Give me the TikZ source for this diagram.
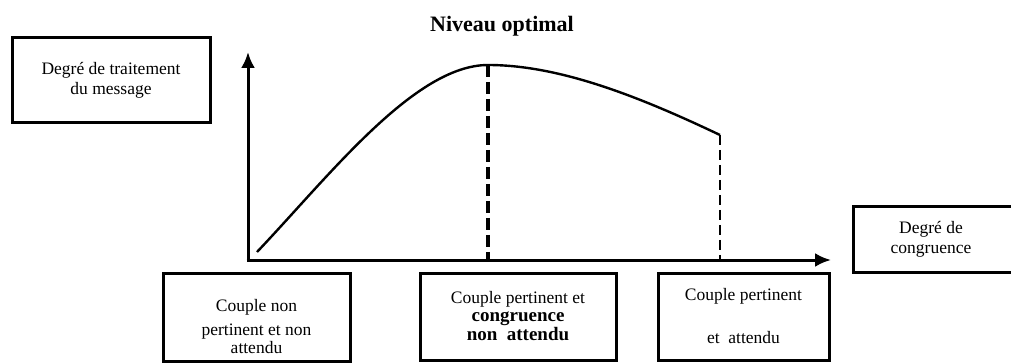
\documentclass[tikz,border=0pt]{standalone}
\usepackage{fontspec}
\setmainfont{Liberation Serif}
\usetikzlibrary{arrows.meta}
\begin{document}
\begin{tikzpicture}[x=1pt,y=-1pt,
  box/.style={draw,line width=3pt,align=center,inner sep=0pt,font=\fontsize{17.5}{20}\selectfont},
  txt/.style={align=center,inner sep=0pt,font=\fontsize{17.5}{20}\selectfont},
  axis/.style={line width=3pt,-{Latex[length=16pt,width=14pt]}},
  curve/.style={line width=2.4pt},
  dashA/.style={line width=3.2pt,dash pattern=on 12pt off 5pt},
  dashB/.style={line width=2.2pt,dash pattern=on 10pt off 5pt}]
\useasboundingbox (0,0) rectangle (1011,363);
% boxes
\node[box,minimum width=198pt,minimum height=85pt] (ylab) at (111,80.5)
  {Degré de traitement\\du message};
\node[box,minimum width=166pt,minimum height=65pt] (xlab) at (936,239.5)
  {\hspace*{-10pt}Degré de\\\hspace*{-10pt}congruence};
\node[box,minimum width=187pt,minimum height=88pt] (b1) at (256.5,317) {};
\node[txt] (b1t) at (256.5,327)
  {Couple non\\[4pt]pertinent et non\\[-2pt]attendu};
\node[box,minimum width=196pt,minimum height=87pt] (b2) at (518,316.5)
  {Couple pertinent et\\[-2pt]{\fontsize{19}{20}\selectfont\bfseries congruence}\\[-1pt]{\fontsize{19}{20}\selectfont\bfseries non\ \ attendu}};
\node[box,minimum width=171pt,minimum height=87pt] (b3) at (743.5,316.5)
  {Couple pertinent\\[23pt]et\ \ attendu};
\node[font=\bfseries\fontsize{22}{24}\selectfont] (title) at (502,26) {Niveau optimal};
% axes
\coordinate (O) at (248,260);
\coordinate (ytop) at (248,52);
\coordinate (xend) at (831,260);
\draw[axis] (O) -- (ytop);
\draw[axis] ([xshift=-1.5pt]O) -- (xend);
% curve
\coordinate (c0) at (257,252);
\coordinate (peak) at (488,65);
\coordinate (cend) at (720,135);
\draw[curve] (c0) .. controls (330,175) and (415,65) .. (peak)
  .. controls (560,65) and (640,97) .. (cend);
\draw[dashA] (peak) -- (peak |- O);
\draw[dashB] (cend) -- (cend |- O);
\end{tikzpicture}
\end{document}
